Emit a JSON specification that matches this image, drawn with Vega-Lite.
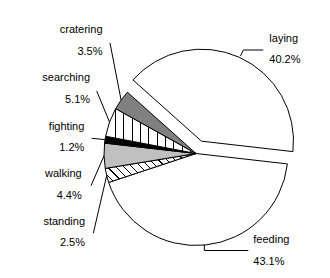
{
  "$schema": "https://vega.github.io/schema/vega-lite/v6.json",
  "width": 268,
  "height": 249,
  "autosize": {"type": "none"},
  "padding": {"left": 62, "top": 29, "right": 0, "bottom": 0},
  "background": "white",
  "config": {"view": {"stroke": null}},
  "data": {
    "values": [
      {"activity": "feeding", "pct": 43.1, "order": 1},
      {"activity": "standing", "pct": 2.5, "order": 2},
      {"activity": "walking", "pct": 4.4, "order": 3},
      {"activity": "fighting", "pct": 1.2, "order": 4},
      {"activity": "searching", "pct": 5.1, "order": 5},
      {"activity": "cratering", "pct": 3.5, "order": 6},
      {"activity": "laying", "pct": 40.2, "order": 7}
    ]
  },
  "layer": [
    {
      "mark": {
        "type": "arc",
        "radius": 92,
        "stroke": "black",
        "strokeWidth": 1,
        "xOffset": {"expr": "datum.activity === 'laying' ? 13.5 * sin(1.6843 + PI * (datum.pct_start + datum.pct_end) / 100) : 0"},
        "yOffset": {"expr": "datum.activity === 'laying' ? -13.5 * cos(1.6843 + PI * (datum.pct_start + datum.pct_end) / 100) : 0"}
      },
      "encoding": {
        "theta": {"field": "pct", "type": "quantitative", "stack": true, "scale": {"domain": [0, 100], "range": [1.6843, 7.9675]}},
        "order": {"field": "order", "type": "quantitative"},
        "fill": {
          "condition": [
            {"test": "datum.activity === 'searching'", "value": {"gradient": "linear", "x1": 0, "y1": 0, "x2": 1, "y2": 0, "stops": [
              {"offset": 0, "color": "white"}, {"offset": 0.104, "color": "white"}, {"offset": 0.104, "color": "black"}, {"offset": 0.116, "color": "black"}, {"offset": 0.116, "color": "white"},
              {"offset": 0.196, "color": "white"}, {"offset": 0.196, "color": "black"}, {"offset": 0.208, "color": "black"}, {"offset": 0.208, "color": "white"},
              {"offset": 0.288, "color": "white"}, {"offset": 0.288, "color": "black"}, {"offset": 0.300, "color": "black"}, {"offset": 0.300, "color": "white"},
              {"offset": 0.380, "color": "white"}, {"offset": 0.380, "color": "black"}, {"offset": 0.392, "color": "black"}, {"offset": 0.392, "color": "white"},
              {"offset": 0.472, "color": "white"}, {"offset": 0.472, "color": "black"}, {"offset": 0.484, "color": "black"}, {"offset": 0.484, "color": "white"},
              {"offset": 0.564, "color": "white"}, {"offset": 0.564, "color": "black"}, {"offset": 0.576, "color": "black"}, {"offset": 0.576, "color": "white"},
              {"offset": 0.656, "color": "white"}, {"offset": 0.656, "color": "black"}, {"offset": 0.668, "color": "black"}, {"offset": 0.668, "color": "white"},
              {"offset": 0.748, "color": "white"}, {"offset": 0.748, "color": "black"}, {"offset": 0.760, "color": "black"}, {"offset": 0.760, "color": "white"},
              {"offset": 0.840, "color": "white"}, {"offset": 0.840, "color": "black"}, {"offset": 0.852, "color": "black"}, {"offset": 0.852, "color": "white"},
              {"offset": 0.932, "color": "white"}, {"offset": 0.932, "color": "black"}, {"offset": 0.944, "color": "black"}, {"offset": 0.944, "color": "white"},
              {"offset": 1, "color": "white"}
            ]}},
            {"test": "datum.activity === 'standing'", "value": {"gradient": "linear", "x1": 0, "y1": 1, "x2": 1.197, "y2": 0.618, "stops": [
              {"offset": 0, "color": "white"}, {"offset": 0.0045, "color": "white"}, {"offset": 0.0045, "color": "black"}, {"offset": 0.0145, "color": "black"}, {"offset": 0.0145, "color": "white"},
              {"offset": 0.0738, "color": "white"}, {"offset": 0.0738, "color": "black"}, {"offset": 0.0838, "color": "black"}, {"offset": 0.0838, "color": "white"},
              {"offset": 0.1431, "color": "white"}, {"offset": 0.1431, "color": "black"}, {"offset": 0.1531, "color": "black"}, {"offset": 0.1531, "color": "white"},
              {"offset": 0.2124, "color": "white"}, {"offset": 0.2124, "color": "black"}, {"offset": 0.2224, "color": "black"}, {"offset": 0.2224, "color": "white"},
              {"offset": 0.2817, "color": "white"}, {"offset": 0.2817, "color": "black"}, {"offset": 0.2917, "color": "black"}, {"offset": 0.2917, "color": "white"},
              {"offset": 0.3510, "color": "white"}, {"offset": 0.3510, "color": "black"}, {"offset": 0.3610, "color": "black"}, {"offset": 0.3610, "color": "white"},
              {"offset": 0.4203, "color": "white"}, {"offset": 0.4203, "color": "black"}, {"offset": 0.4303, "color": "black"}, {"offset": 0.4303, "color": "white"},
              {"offset": 0.4896, "color": "white"}, {"offset": 0.4896, "color": "black"}, {"offset": 0.4996, "color": "black"}, {"offset": 0.4996, "color": "white"},
              {"offset": 0.5589, "color": "white"}, {"offset": 0.5589, "color": "black"}, {"offset": 0.5689, "color": "black"}, {"offset": 0.5689, "color": "white"},
              {"offset": 0.6282, "color": "white"}, {"offset": 0.6282, "color": "black"}, {"offset": 0.6382, "color": "black"}, {"offset": 0.6382, "color": "white"},
              {"offset": 0.6975, "color": "white"}, {"offset": 0.6975, "color": "black"}, {"offset": 0.7075, "color": "black"}, {"offset": 0.7075, "color": "white"},
              {"offset": 0.7668, "color": "white"}, {"offset": 0.7668, "color": "black"}, {"offset": 0.7768, "color": "black"}, {"offset": 0.7768, "color": "white"},
              {"offset": 0.8361, "color": "white"}, {"offset": 0.8361, "color": "black"}, {"offset": 0.8461, "color": "black"}, {"offset": 0.8461, "color": "white"},
              {"offset": 0.9054, "color": "white"}, {"offset": 0.9054, "color": "black"}, {"offset": 0.9154, "color": "black"}, {"offset": 0.9154, "color": "white"},
              {"offset": 0.9747, "color": "white"}, {"offset": 0.9747, "color": "black"}, {"offset": 0.9847, "color": "black"}, {"offset": 0.9847, "color": "white"},
              {"offset": 1, "color": "white"}
            ]}},
            {"test": "datum.activity === 'walking'", "value": "#c0c0c0"},
            {"test": "datum.activity === 'fighting'", "value": "#000000"},
            {"test": "datum.activity === 'cratering'", "value": "#808080"}
          ],
          "value": "white"
        }
      }
    },
    {
      "transform": [{"calculate": "datum.activity + '\\n' + format(datum.pct, '.1f') + '%'", "as": "label"}],
      "mark": {
        "type": "text",
        "radius": 125,
        "lineBreak": "\n",
        "lineHeight": 21.5,
        "font": "Liberation Sans",
        "fontSize": 11,
        "fill": "black",
        "baseline": "middle",
        "align": {"expr": "datum.order == 1 || datum.order == 7 ? 'left' : 'right'"},
        "dx": {"expr": "[44.4, 10.4, 10.7, 11.9, 11.5, 8.3, 22.2][datum.order - 1]"},
        "dy": {"expr": "[-37.5, 38.6, 17.9, -7.7, -32.4, -50.9, -0.7][datum.order - 1]"}
      },
      "encoding": {
        "theta": {"field": "pct", "type": "quantitative", "stack": true, "scale": {"domain": [0, 100], "range": [1.6843, 7.9675]}},
        "order": {"field": "order", "type": "quantitative"},
        "text": {"field": "label", "type": "nominal"}
      }
    },
    {
      "mark": {"type": "rule", "stroke": "black", "strokeWidth": 1},
      "encoding": {
        "x": {"value": {"expr": "[142.3, 44.7, 42, 43, 47.5, 59.1, 178.5][datum.order - 1]"}},
        "y": {"value": {"expr": "[215.5, 146.5, 126.8, 110.6, 93, 71.1, 27][datum.order - 1]"}},
        "x2": {"value": {"expr": "[142.3, 31.3, 29, 29.7, 34.7, 48, 181.3][datum.order - 1]"}},
        "y2": {"value": {"expr": "[221.5, 204.3, 156.7, 109.3, 62, 14, 21][datum.order - 1]"}}
      }
    },
    {
      "transform": [{"filter": "datum.order == 1 || datum.order == 7"}],
      "mark": {"type": "rule", "stroke": "black", "strokeWidth": 1},
      "encoding": {
        "x": {"value": {"expr": "datum.order == 1 ? 142.3 : 181.3"}},
        "y": {"value": {"expr": "datum.order == 1 ? 221.5 : 21"}},
        "x2": {"value": {"expr": "datum.order == 1 ? 186.3 : 201.3"}},
        "y2": {"value": {"expr": "datum.order == 1 ? 221.5 : 21"}}
      }
    }
  ]
}
